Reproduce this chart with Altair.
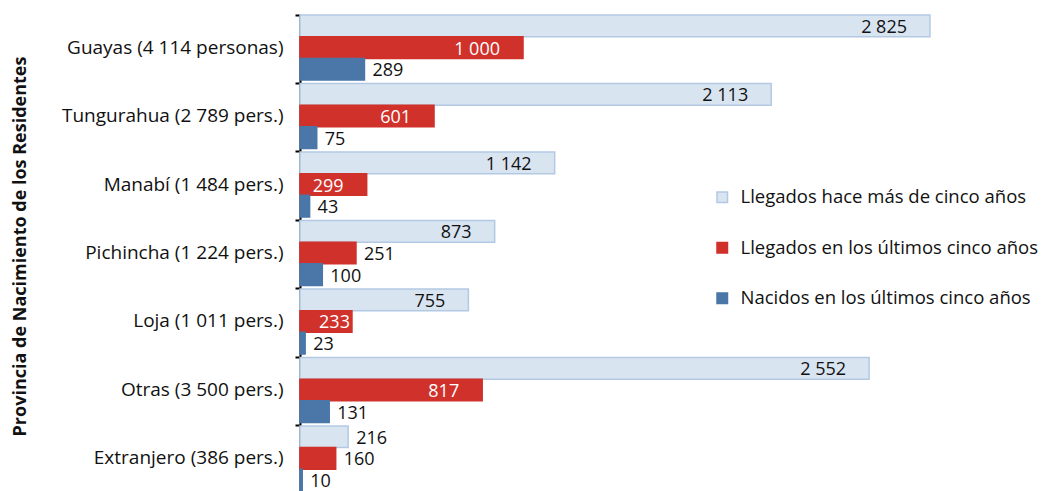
import altair as alt
import pandas as pd

categories = [
    "Guayas (4 114 personas)",
    "Tungurahua (2 789 pers.)",
    "Manabí (1 484 pers.)",
    "Pichincha (1 224 pers.)",
    "Loja (1 011 pers.)",
    "Otras (3 500 pers.)",
    "Extranjero (386 pers.)",
]
series = [
    "Llegados hace más de cinco años",
    "Llegados en los últimos cinco años",
    "Nacidos en los últimos cinco años",
]
hace_mas = [2825, 2113, 1142, 873, 755, 2552, 216]
ultimos = [1000, 601, 299, 251, 233, 817, 160]
nacidos = [289, 75, 43, 100, 23, 131, 10]
# label placement: 1 = inside the bar end, 2 = inside flush with the end, 0 = outside
inside_hace_mas = [1, 1, 1, 1, 1, 1, 0]
inside_ultimos = [1, 1, 1, 0, 2, 1, 0]
inside_nacidos = [0, 0, 0, 0, 0, 0, 0]

colors = ["#D9E4F1", "#D0312B", "#4A76A8"]
strokes = ["#B3C9E3", "#D0312B", "#4A76A8"]
FONT = "Open Sans"
FS = 19
VFS = 18

rows = []
for s, vals, ins in zip(series, [hace_mas, ultimos, nacidos],
                        [inside_hace_mas, inside_ultimos, inside_nacidos]):
    for c, v, i in zip(categories, vals, ins):
        rows.append({"cat": c, "serie": s, "valor": v,
                     "etiqueta": f"{v:,}".replace(",", " "), "dentro": i})
df = pd.DataFrame(rows)

y_enc = alt.Y("cat:N", sort=categories,
              scale=alt.Scale(paddingInner=0.05, paddingOuter=0),
              axis=alt.Axis(title="Provincia de Nacimiento de los Residentes",
                            bandPosition=0, labelFontSize=FS, labelFont=FONT,
                            labelColor="#111", labelPadding=12, labelLimit=400,
                            tickSize=5, tickWidth=2, tickColor="#000",
                            domainColor="#000", domainWidth=2, grid=False,
                            titleFont=FONT, titleFontSize=18, titleFontWeight="bold",
                            titleColor="#111", titleX=-280, titleY=231,
                            titleAngle=-90, titleAlign="center", titleBaseline="middle"))
yoff = alt.YOffset("serie:N", sort=series,
                   scale=alt.Scale(paddingInner=0, paddingOuter=0))
x_enc = alt.X("valor:Q", scale=alt.Scale(domain=[0, 3000], nice=False), axis=None)

base = alt.Chart(df).encode(y=y_enc, yOffset=yoff, x=x_enc)

leg = dict(title=None, orient="none", legendX=413, legendY=173,
           labelFontSize=18.5, labelFont=FONT, labelColor="#111", labelLimit=400,
           symbolType="square", symbolSize=110, symbolStrokeWidth=1.5,
           rowPadding=31.5, labelOffset=9)

bars = base.mark_bar(strokeWidth=1.5).encode(
    fill=alt.Fill("serie:N", sort=series,
                  scale=alt.Scale(domain=series, range=colors),
                  legend=alt.Legend(**leg)),
    stroke=alt.Stroke("serie:N", sort=series,
                      scale=alt.Scale(domain=series, range=strokes),
                      legend=alt.Legend(**leg)),
)

txt_color = alt.condition(alt.datum.serie == series[1], alt.value("white"), alt.value("#111"))

inside = base.mark_text(align="right", baseline="middle", dx=-23, dy=2,
                        fontSize=VFS, font=FONT).encode(
    text="etiqueta:N", color=txt_color,
).transform_filter(alt.datum.dentro == 1)

inside_tight = base.mark_text(align="right", baseline="middle", dx=-2, dy=2,
                              fontSize=VFS, font=FONT).encode(
    text="etiqueta:N", color=txt_color,
).transform_filter(alt.datum.dentro == 2)

outside = base.mark_text(align="left", baseline="middle", dx=8, dy=2,
                         fontSize=VFS, font=FONT, color="#111").encode(
    text="etiqueta:N",
).transform_filter(alt.datum.dentro == 0)

chart = alt.layer(bars, inside, inside_tight, outside).properties(
    width=669, height=476,
    autosize=alt.AutoSizeParams(type="none"),
    padding={"left": 292, "top": 7, "right": 70, "bottom": 0},
).configure_view(stroke=None)

chart.save("out.html", embed_options={"renderer": "svg", "actions": False})
